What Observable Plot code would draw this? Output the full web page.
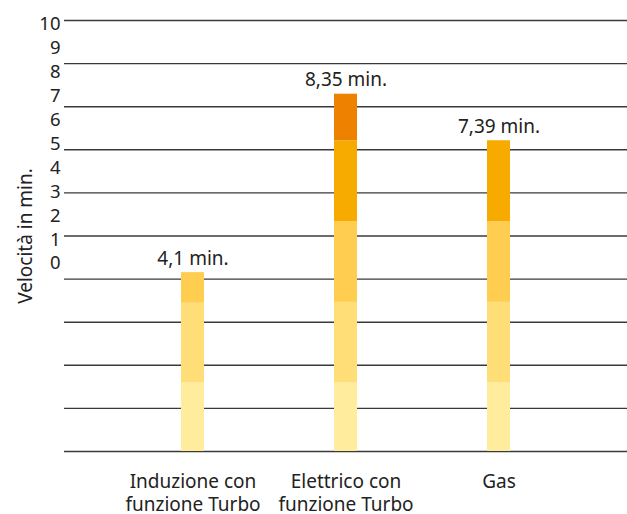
<!DOCTYPE html>
<html>
<head>
<meta charset="utf-8">
<script src="https://cdn.jsdelivr.net/npm/d3@7"></script>
<script src="https://cdn.jsdelivr.net/npm/@observablehq/plot@0.6"></script>
<style>
  body { margin: 0; background: #fff; }
  #wrap { position: relative; width: 627px; height: 514px; }
  #wrap svg { position: absolute; left: 0; top: 0; }
</style>
</head>
<body>
<div id="wrap"></div>
<script>
// Categories (x axis)
const categories = ["Induzione con\nfunzione Turbo", "Elettrico con\nfunzione Turbo", "Gas"];
// Stacked segments per category, minutes (bottom to top)
const induzione = [1.59, 1.85, 0.71];
const elettrico = [1.59, 1.87, 1.87, 1.88, 1.08];
const gas = [1.59, 1.87, 1.87, 1.88];
// Labels above bars
const timeLabels = ["4,1 min.", "8,35 min.", "7,39 min."];
// Segment colours (bottom to top)
const stageColors = ["#FFEC9C", "#FFDD77", "#FFCD50", "#F7AA00", "#EE8200"];
// Axis ticks
const yTicks = [0, 1, 2, 3, 4, 5, 6, 7, 8, 9, 10];
const yTitle = "Velocità in min.";

const series = [induzione, elettrico, gas];
const rows = series.flatMap((vals, ci) => vals.map((v, si) => ({cat: categories[ci], stage: si, value: v})));
const totals = series.map((vals, ci) => ({cat: categories[ci], total: d3.sum(vals), label: timeLabels[ci]}));

const W = 627, H = 514;
const font = "'Noto Sans', 'Open Sans', sans-serif";
const baseStyle = {fontFamily: font, fontSize: "16px", color: "#222", background: "transparent", overflow: "visible"};

const main = Plot.plot({
  width: W, height: H,
  marginLeft: 64, marginRight: 0, marginTop: 20, marginBottom: 63,
  style: baseStyle,
  x: {type: "band", domain: categories, paddingInner: 0.847, paddingOuter: 0.757},
  y: {domain: [0, 10], axis: null},
  color: {type: "ordinal", domain: [0, 1, 2, 3, 4], range: stageColors},
  marks: [
    Plot.ruleY(yTicks, {stroke: "#3a3a3a", strokeWidth: 1.4}),
    Plot.barY(rows, {x: "cat", y: "value", fill: "stage"}),
    Plot.text(totals, {x: "cat", y: "total", text: "label", dy: -14, fill: "#222", fontSize: 19}),
    Plot.axisX({tickSize: 0, tickPadding: 19, lineHeight: 1.26, fontSize: 19, fill: "#222", label: null})
  ]
});

// Tick labels of the original are drawn on their own (compressed) axis
const axisPlot = Plot.plot({
  width: W, height: H,
  marginLeft: 64, marginRight: 0, marginTop: 20, marginBottom: 63,
  style: baseStyle,
  x: {domain: [0, 1], axis: null},
  y: {domain: [0, 10], range: [263, 24]},
  marks: [
    Plot.axisY(yTicks, {tickSize: 0, tickPadding: 4, fontSize: 18.5, fill: "#222", label: null})
  ]
});

const titlePlot = Plot.plot({
  width: W, height: H,
  marginLeft: 64, marginRight: 0, marginTop: 20, marginBottom: 63,
  style: baseStyle,
  x: {domain: [0, 1], axis: null},
  y: {domain: [0, 10], label: yTitle},
  marks: [
    Plot.axisY({ticks: [], label: yTitle, labelAnchor: "center", labelArrow: "none", labelOffset: 46, fontSize: 19, fill: "#222", tickSize: 0})
  ]
});

const wrap = document.getElementById("wrap");
wrap.append(main, axisPlot, titlePlot);
</script>
</body>
</html>
